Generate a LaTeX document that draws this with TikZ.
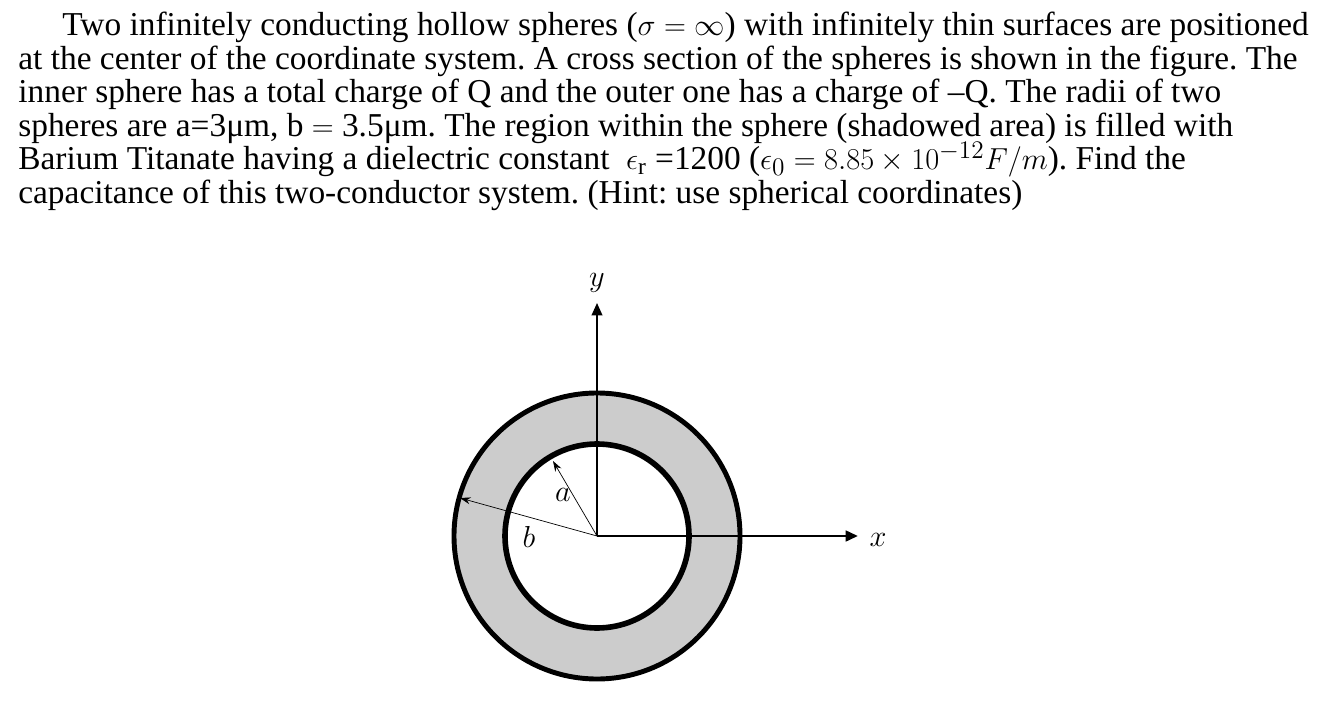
\documentclass[tikz,border=0pt]{standalone}
\usepackage{fontspec}
\setmainfont{Liberation Serif}
\usetikzlibrary{arrows.meta}
\frenchspacing
\begin{document}
\begin{tikzpicture}[x=0.02cm,y=-0.02cm,
  txt/.style={anchor=base west,inner sep=0pt,text height=12pt,text depth=3pt,font=\fontsize{19pt}{22pt}\selectfont},
  lbl/.style={font=\fontsize{19pt}{22pt}\selectfont,inner sep=0pt},
  axis/.style={-{Triangle[length=7pt,width=6pt]}},
  rad/.style={-{Stealth[length=6pt,width=4pt]},line width=0.4pt}]
\useasboundingbox (0,0) rectangle (1338,702);
\node[txt] (l1) at (62,36) {Two infinitely conducting hollow spheres ($\sigma=\infty$) with infinitely thin surfaces are positioned};
\node[txt] (l2) at (18,70) {at the center of the coordinate system. A cross section of the spheres is shown in the figure. The};
\node[txt] (l3) at (18,103) {inner sphere has a total charge of Q and the outer one has a charge of –Q. The radii of two};
\node[txt] (l4) at (18,137) {spheres are a=3μm, b $=$ 3.5μm. The region within the sphere (shadowed area) is filled with};
\node[txt] (l5) at (18,170) {Barium Titanate having a dielectric constant \ $\epsilon_{\mathrm r}$ =1200 ($\epsilon_0=8.85\times10^{-12}F/m$). Find the};
\node[txt] (l6) at (18,204) {capacitance of this two-conductor system. (Hint: use spherical coordinates)};
\coordinate (o) at (597,536);
\fill[gray!40] (o) circle (145);
\fill[white] (o) circle (92);
\draw[line width=2.8pt] (o) circle (143);
\draw[line width=3.2pt] (o) circle (92);
\coordinate (yt) at (597,303);
\coordinate (xt) at (858,536);
\draw[axis,line width=1.1pt] (o) -- (yt);
\draw[axis,line width=1.6pt] (o) -- (xt);
\node[lbl] (ylab) at (597,283) {$y$};
\node[lbl] (xlab) at (878,540) {$x$};
\coordinate (ta) at (553,461);
\coordinate (tb) at (460,498);
\draw[rad] (o) -- (ta);
\draw[rad] (o) -- (tb);
\node[lbl] (alab) at (563,495) {$a$};
\node[lbl] (blab) at (529,537) {$b$};
\end{tikzpicture}
\end{document}
